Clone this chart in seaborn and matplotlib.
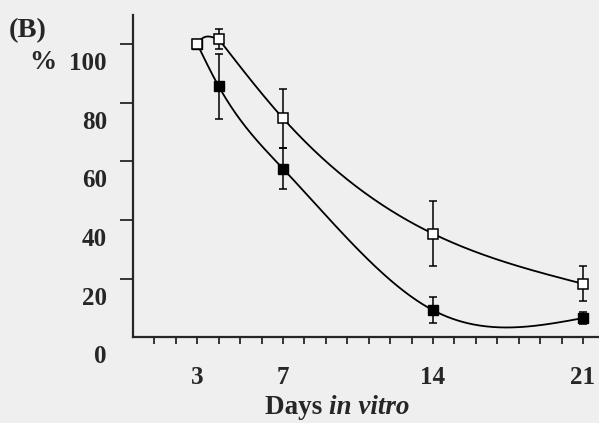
import numpy as np
import pandas as pd

import matplotlib
matplotlib.use("Agg")
import matplotlib.pyplot as plt
import matplotlib.transforms as mtransforms
import seaborn as sns

# ==========================================
# DATA
# ==========================================

days_open = [3, 4, 7, 14, 21]
pct_open = [100, 101.7, 74.7, 35.3, 18.2]
err_open = [0, 3.5, 10, 11, 6]

days_filled = [3, 4, 7, 14, 21]
pct_filled = [100, 85.6, 57.5, 9.2, 6.5]
err_filled = [0, 11, 7, 4.5, 2]

x_tick_labels = [3, 7, 14, 21]
y_tick_labels = [0, 20, 40, 60, 80, 100]


# natural cubic spline, only used to draw the smooth connecting curve
def smooth_curve(x, y, n=300):
    x = np.asarray(x, float)
    y = np.asarray(y, float)
    k = len(x)
    h = np.diff(x)
    A = np.zeros((k, k))
    b = np.zeros(k)
    A[0, 0] = 1
    A[-1, -1] = 1
    for i in range(1, k - 1):
        A[i, i - 1] = h[i - 1]
        A[i, i] = 2 * (h[i - 1] + h[i])
        A[i, i + 1] = h[i]
        b[i] = 6 * ((y[i + 1] - y[i]) / h[i] - (y[i] - y[i - 1]) / h[i - 1])
    M = np.linalg.solve(A, b)
    xs = np.linspace(x[0], x[-1], n)
    idx = np.clip(np.searchsorted(x, xs) - 1, 0, k - 2)
    x0, x1 = x[idx], x[idx + 1]
    hh = x1 - x0
    ys = (M[idx] * (x1 - xs) ** 3 / (6 * hh) + M[idx + 1] * (xs - x0) ** 3 / (6 * hh)
          + (y[idx] - M[idx] * hh ** 2 / 6) * (x1 - xs) / hh
          + (y[idx + 1] - M[idx + 1] * hh ** 2 / 6) * (xs - x0) / hh)
    # slope at the first knot (natural end, M[0] = 0)
    slope0 = (y[1] - y[0]) / h[0] - M[1] * h[0] / 6
    return xs, ys, slope0


def hermite(x0, x1, y0, y1, m0, m1, n=40):
    t = np.linspace(0, 1, n)
    h = x1 - x0
    ys = ((2 * t**3 - 3 * t**2 + 1) * y0 + (t**3 - 2 * t**2 + t) * h * m0
          + (-2 * t**3 + 3 * t**2) * y1 + (t**3 - t**2) * h * m1)
    return x0 + t * h, ys


# ==========================================
# PLOT
# ==========================================

sns.set_style("ticks")
plt.rcParams["font.family"] = ["Liberation Serif", "DejaVu Serif"]

bg = "#efefef"
fig = plt.figure(figsize=(5.99, 4.23), dpi=100, facecolor=bg)
ax = fig.add_axes([0.222, 0.203, 0.778, 0.762])
ax.set_facecolor(bg)

# open series: small arc between the first two points, smooth decay after
xs_b, ys_b, s_b = smooth_curve(days_open[1:], pct_open[1:])
xs_a, ys_a = hermite(days_open[0], days_open[1], pct_open[0], pct_open[1], 12, -2)
curves = pd.DataFrame({"day": np.r_[xs_a, xs_b], "pct": np.r_[ys_a, ys_b], "group": "open"})

xs, ys, _ = smooth_curve(days_filled, pct_filled)
curves = pd.concat([curves, pd.DataFrame({"day": xs, "pct": ys, "group": "filled"})])

sns.lineplot(
    data=curves, x="day", y="pct", units="group", estimator=None,
    color="black", linewidth=1.3, ax=ax, legend=False, sort=False
)

ax.errorbar(
    days_filled, pct_filled, yerr=err_filled,
    fmt="s", color="black", markersize=7, capsize=3,
    elinewidth=1.1, capthick=1.1, zorder=3
)
ax.errorbar(
    days_open, pct_open, yerr=err_open,
    fmt="s", color="black", markerfacecolor="white", markeredgewidth=1.1,
    markersize=7, capsize=3, elinewidth=1.1, capthick=1.1, zorder=4
)

ax.set_xlim(0, 21.75)
ax.set_ylim(0, 110)

ax.set_xticks(np.arange(1, 22), minor=True)
ax.set_xticks(x_tick_labels)
ax.set_yticks(y_tick_labels)
ax.set_yticklabels([str(v) for v in y_tick_labels])

ax.tick_params(axis="x", which="both", direction="out", length=5, width=1.3,
               labelsize=18, pad=15.5)
ax.tick_params(axis="y", direction="out", length=9.4, width=1.3,
               labelsize=18, pad=9.4)

# the y labels sit a little below their ticks in the original
offset = mtransforms.ScaledTranslation(0, -0.17, fig.dpi_scale_trans)
for lab in ax.get_yticklabels():
    lab.set_transform(lab.get_transform() + offset)
    lab.set_fontweight("bold")
for lab in ax.get_xticklabels():
    lab.set_fontweight("bold")

ax.yaxis.get_major_ticks()[0].tick1line.set_visible(False)

sns.despine(ax=ax)
ax.spines["left"].set_linewidth(1.6)
ax.spines["bottom"].set_linewidth(1.6)

ax.set_xlabel("")
ax.set_ylabel("")

fig.text(0.015, 0.958, "(B)", fontsize=20.5, fontweight="bold", va="top")
fig.text(0.048, 0.852, "%", fontsize=19.5, fontweight="bold", va="center")

t1 = fig.text(0.442, 0.036, "Days ", fontsize=19.5, fontweight="bold", va="center")
ax.annotate("in vitro", xy=(1, 0), xycoords=t1, va="bottom",
            fontsize=19.5, fontweight="bold", fontstyle="italic",
            annotation_clip=False)

fig.savefig("out.png", dpi=100, facecolor=bg)
